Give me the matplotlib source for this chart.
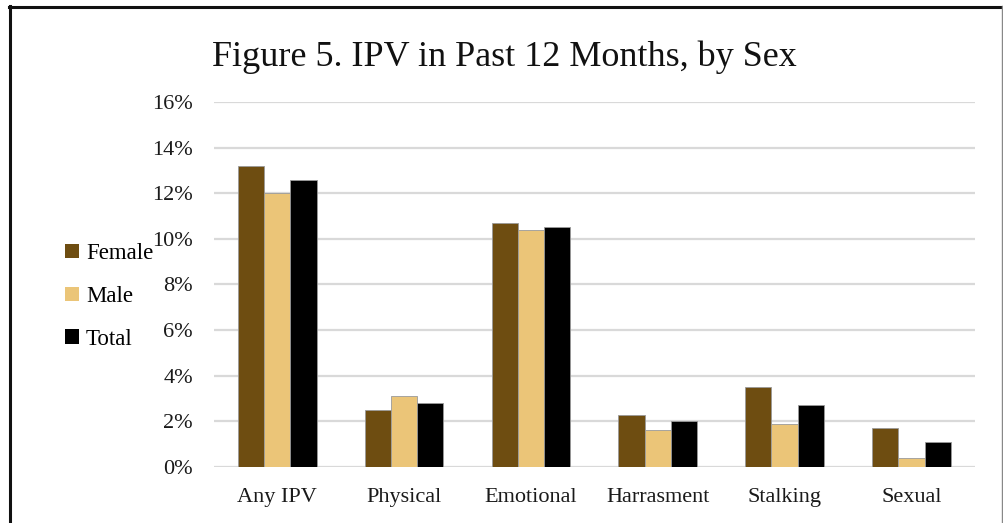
import matplotlib
matplotlib.use("Agg")
import matplotlib.pyplot as plt
import numpy as np
from matplotlib.lines import Line2D
from matplotlib.patches import Patch

categories = ["Any IPV", "Physical", "Emotional", "Harrasment", "Stalking", "Sexual"]
female = [13.2, 2.5, 10.7, 2.3, 3.5, 1.7]
male = [12.0, 3.1, 10.4, 1.6, 1.9, 0.4]
total = [12.6, 2.8, 10.5, 2.0, 2.7, 1.1]
series_names = ["Female", "Male", "Total"]
colors = ["#6E4D11", "#EBC578", "#000000"]
yticks = [0, 2, 4, 6, 8, 10, 12, 14, 16]

plt.rcParams['font.family'] = ['Liberation Serif', 'DejaVu Serif']

fig = plt.figure(figsize=(10.04, 5.23), dpi=100)
ax = fig.add_axes([0.213, 0.1071, 0.758, 0.698])

x = np.arange(len(categories))
w = 0.207
for i, (vals, c) in enumerate(zip([female, male, total], colors)):
    ax.bar(x + (i - 1) * w, vals, width=w, color=c, edgecolor="#9a9a9a", linewidth=0.6, zorder=3)

ax.set_xlim(-0.5, len(categories) - 0.5)
ax.set_ylim(0, 16)
ax.set_yticks(yticks)
ax.set_yticklabels([f"{t}%" for t in yticks], fontsize=16)
ax.set_xticks(x)
ax.set_xticklabels(categories, fontsize=16)
ax.tick_params(axis='both', length=0, colors="#1a1a1a")
ax.tick_params(axis='y', pad=15)
ax.tick_params(axis='x', pad=15)
ax.yaxis.grid(True, color="#d9d9d9", linewidth=1.6, zorder=0)
ax.set_axisbelow(True)
for s in ax.spines.values():
    s.set_visible(False)

fig.text(0.502, 0.891, "Figure 5. IPV in Past 12 Months, by Sex", ha="center", va="center",
         fontsize=26, color="#111111")

handles = [Patch(facecolor=c, edgecolor="none") for c in colors]
leg = fig.legend(handles, series_names, loc="center left", bbox_to_anchor=(0.065, 0.433),
                 frameon=False, fontsize=16.5, handlelength=0.6, handleheight=0.6,
                 handletextpad=0.3, labelspacing=0.95, borderpad=0, borderaxespad=0)

# frame around the figure
fig.add_artist(Line2D([0.009, 1.0], [0.987, 0.987], transform=fig.transFigure, color="#111111", linewidth=2.2))
fig.add_artist(Line2D([0.0095, 0.0095], [0.0, 0.988], transform=fig.transFigure, color="#111111", linewidth=2.2))
fig.add_artist(Line2D([0.9985, 0.9985], [0.0, 0.988], transform=fig.transFigure, color="#888888", linewidth=1.0))

fig.savefig("out.png", dpi=100)
